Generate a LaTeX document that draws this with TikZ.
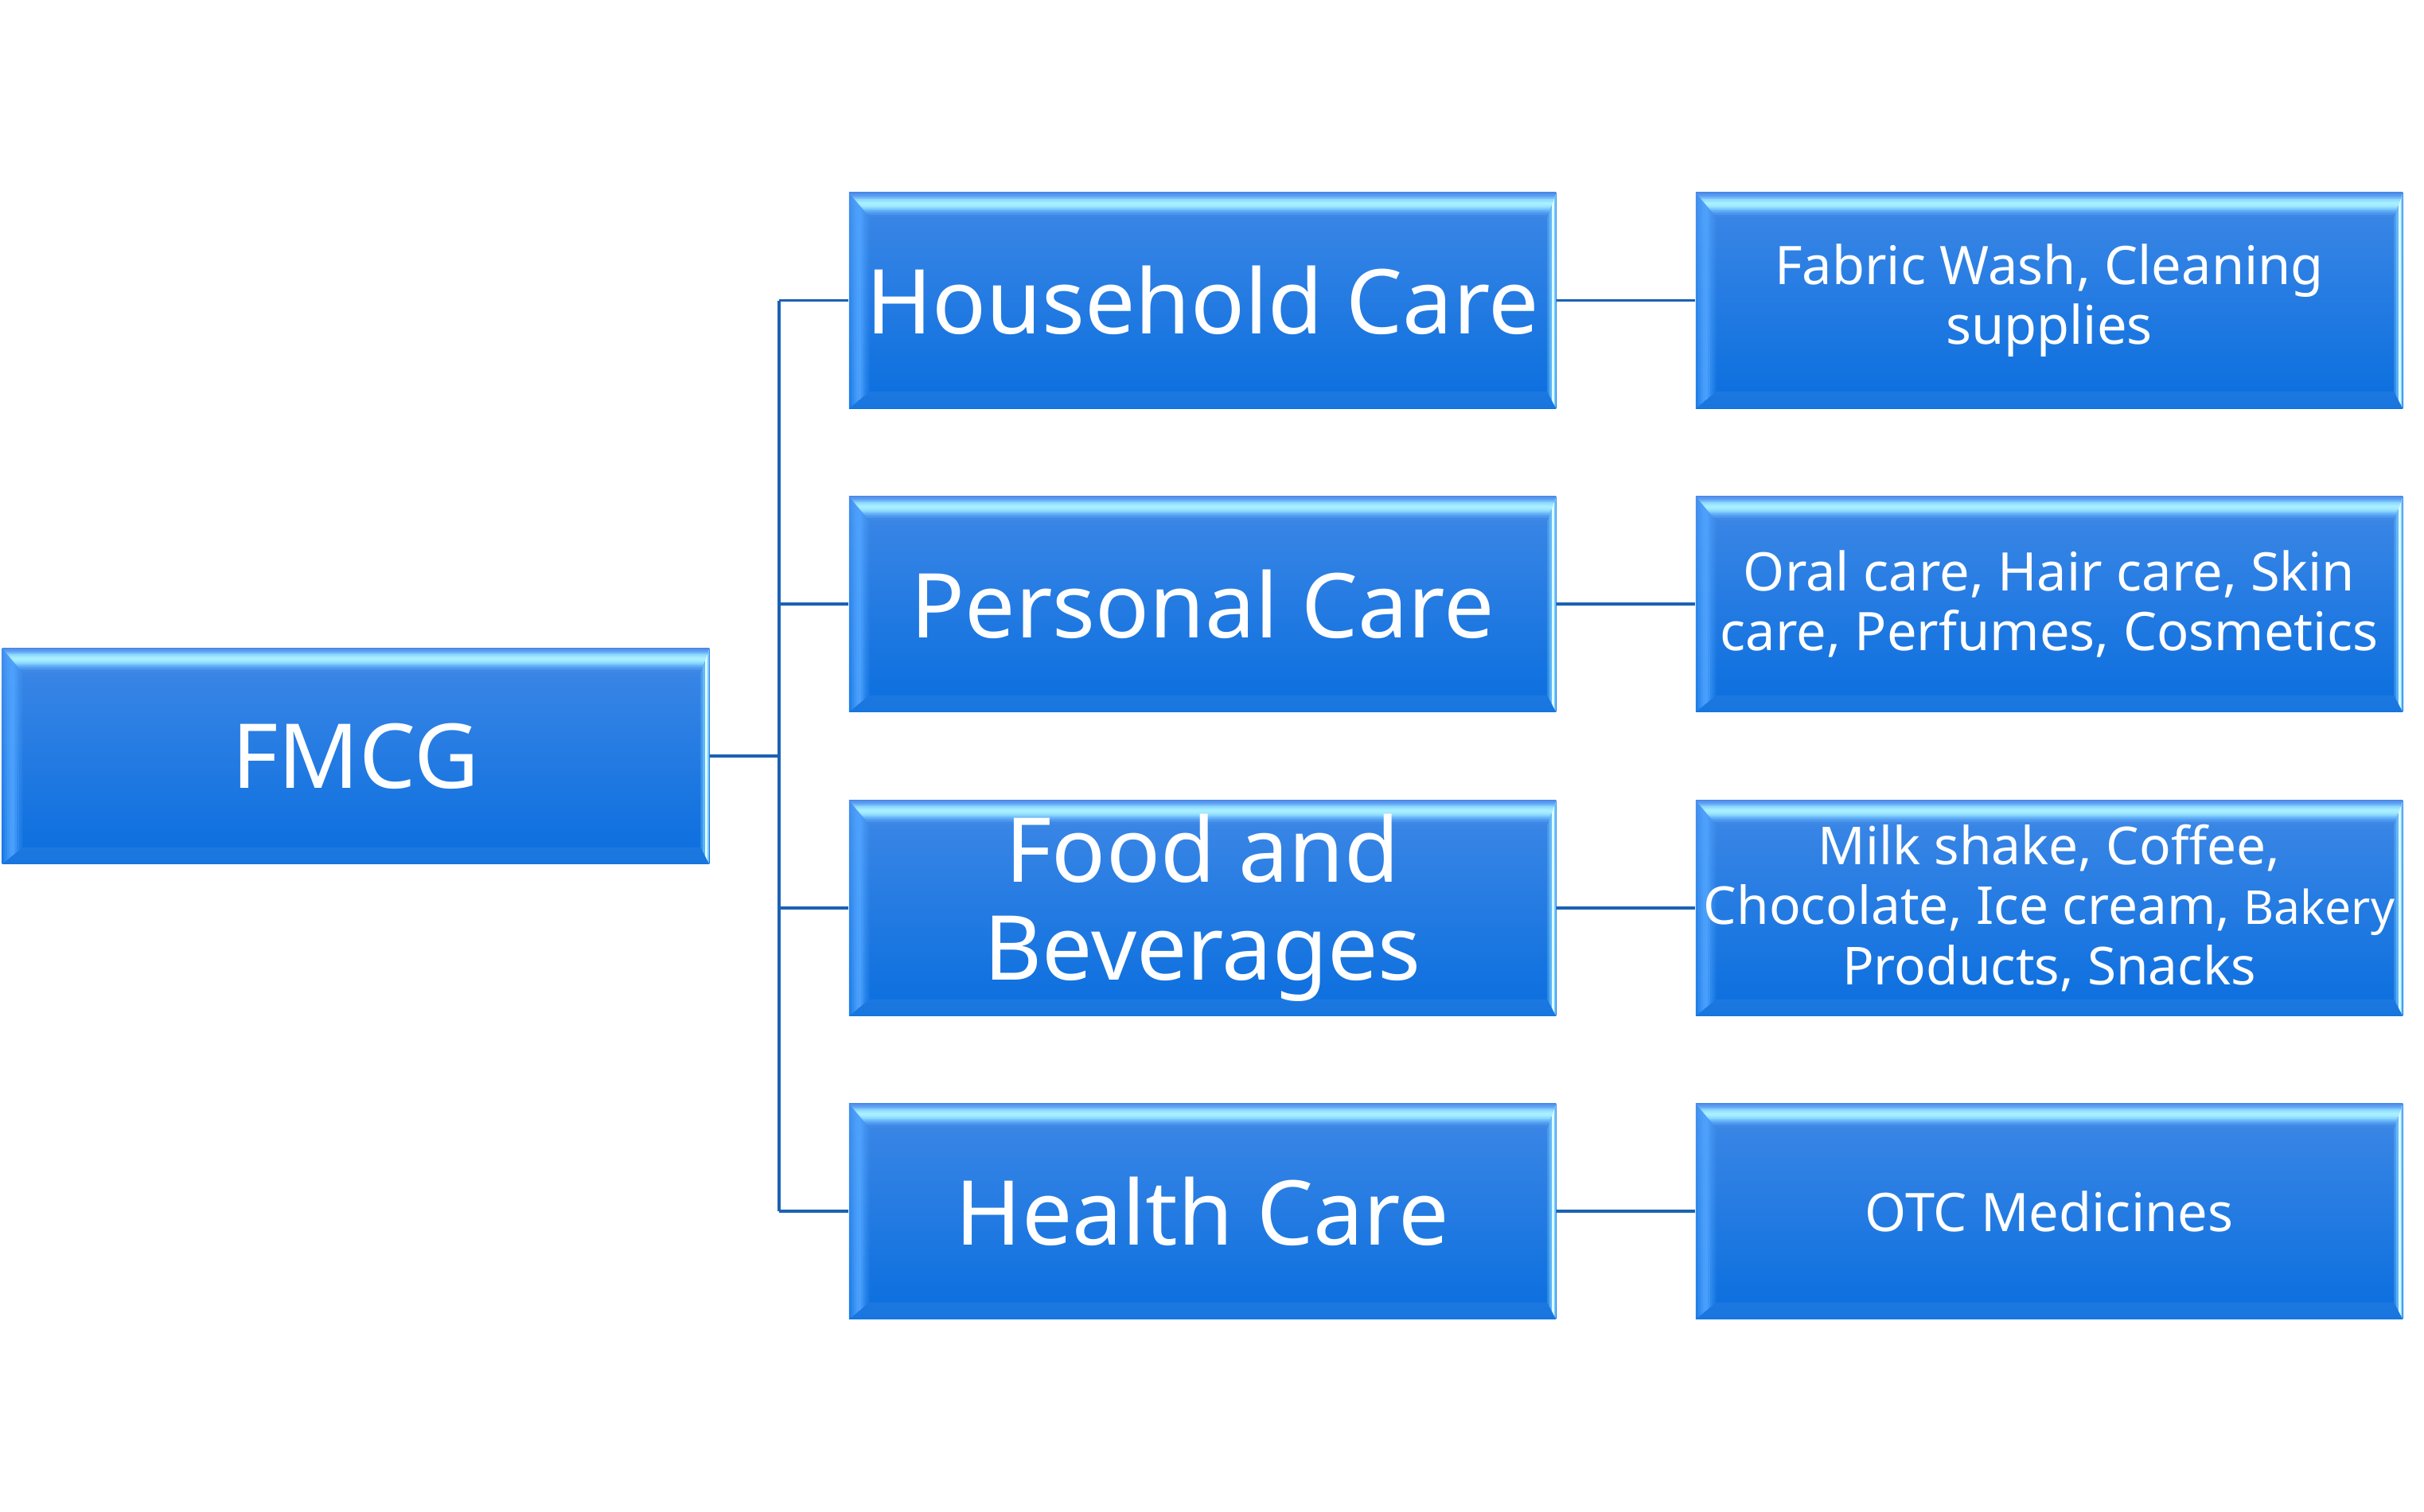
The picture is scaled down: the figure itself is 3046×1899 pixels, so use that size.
\documentclass[tikz,border=0pt]{standalone}
\usepackage{fontspec}
\setmainfont{Noto Sans}
\definecolor{boxtop}{RGB}{62,136,230}
\definecolor{boxmid}{RGB}{28,128,236}
\definecolor{boxbot}{RGB}{10,110,222}
\definecolor{sidecol}{RGB}{80,165,255}
\definecolor{edgecol}{RGB}{220,252,255}
\definecolor{edgecolB}{RGB}{120,205,255}
\definecolor{conncol}{RGB}{28,98,178}
\definecolor{tbA}{RGB}{100,175,248}
\definecolor{tbB}{RGB}{168,238,255}
\definecolor{tbC}{RGB}{140,218,255}
\definecolor{tbD}{RGB}{100,165,244}
\definecolor{tbE}{RGB}{78,140,232}
\tikzset{
  box/.style={rectangle, minimum width=8.88cm, minimum height=2.71cm, inner sep=0pt,
    text=white, align=center,
    top color=boxtop, middle color=boxmid, bottom color=boxbot,
    path picture={
      \coordinate (NW) at (path picture bounding box.north west);
      \coordinate (NE) at (path picture bounding box.north east);
      \coordinate (SW) at (path picture bounding box.south west);
      \coordinate (SE) at (path picture bounding box.south east);
      % left bevel
      \begin{scope}
        \clip (NW) -- ([xshift=0.26cm,yshift=-0.31cm]NW) -- ([xshift=0.26cm,yshift=0.21cm]SW) -- (SW) -- cycle;
        \foreach \d/\o in {0/0.3,3/0.5,6/0.7,9/0.85,12/0.9,15/0.7,18/0.45,21/0.25,24/0.1}
          \fill[sidecol, opacity=\o] ([xshift=\d*0.01cm]NW) rectangle ([xshift=\d*0.01cm+0.031cm]SW);
      \end{scope}
      % bottom bevel
      \fill[white, opacity=0.06]
        (SW) -- ([xshift=0.26cm,yshift=0.21cm]SW) -- ([xshift=-0.11cm,yshift=0.21cm]SE) -- (SE) -- cycle;
      % right bevel
      \begin{scope}
        \clip (NE) -- ([xshift=-0.11cm,yshift=-0.31cm]NE) -- ([xshift=-0.11cm,yshift=0.21cm]SE) -- (SE) -- cycle;
        \fill[edgecolB, opacity=0.35] ([xshift=-0.11cm]NE) rectangle ([xshift=-0.08cm]SE);
        \fill[edgecolB, opacity=0.7] ([xshift=-0.08cm]NE) rectangle ([xshift=-0.055cm]SE);
        \fill[edgecol] ([xshift=-0.055cm]NE) rectangle ([xshift=-0.025cm]SE);
        \fill[edgecolB] ([xshift=-0.025cm]NE) rectangle (SE);
      \end{scope}
      % top bevel
      \begin{scope}
        \clip (NW) -- (NE) -- ([xshift=-0.11cm,yshift=-0.31cm]NE) -- ([xshift=0.26cm,yshift=-0.31cm]NW) -- cycle;
        \foreach \d/\c in {0/tbE,2/tbE!50!tbD,4/tbD,6/tbD!50!tbC,8/tbC,10/tbC!50!tbB,12/tbB,14/tbB,
                           16/tbB!60!tbC,18/tbC,20/tbC!50!tbA,22/tbA,24/tbA!60!boxtop,26/tbA!30!boxtop,28/boxtop,30/boxtop}
          \fill[\c] ([yshift=-\d*0.01cm]NW) rectangle ([yshift=-\d*0.01cm-0.021cm]NE);
      \end{scope}
    }},
  bigtxt/.style={font=\fontsize{32}{35}\selectfont},
  smalltxt/.style={font=\fontsize{19}{21.5}\selectfont},
  conn/.style={draw=conncol, line width=1.1pt}
}
\begin{document}
\begin{tikzpicture}[x=0.01cm, y=-0.01cm]
\useasboundingbox (0,0) rectangle (3046,1899);
\node[box, bigtxt] (fmcg) at (447,950) {FMCG};
\node[box, bigtxt] (hh) at (1511,377.5) {Household Care};
\node[box, bigtxt] (pc) at (1511,759) {Personal Care};
\node[box, bigtxt] (fb) at (1511,1141) {Food and\\Beverages};
\node[box, bigtxt] (hc) at (1511,1522) {Health Care};
\node[box, smalltxt] (r1) at (2575,377.5) {Fabric Wash, Cleaning\\supplies};
\node[box, smalltxt] (r2) at (2575,759) {Oral care, Hair care, Skin\\care, Perfumes, Cosmetics};
\node[box, font=\fontsize{18.7}{21.5}\selectfont] (r3) at (2575,1141) {Milk shake, Coffee,\\Chocolate, Ice cream, {\fontsize{16.7}{21.5}\selectfont Bakery}\\Products, Snacks};
\node[box, smalltxt] (r4) at (2575,1522) {OTC Medicines};
\coordinate (bus) at (979,950);
\draw[conn] (fmcg.east) -- (bus);
\draw[conn] (bus |- hh.west) -- (bus |- hc.west);
\draw[conn] (bus |- hh.west) -- (hh.west);
\draw[conn] (bus |- pc.west) -- (pc.west);
\draw[conn] (bus |- fb.west) -- (fb.west);
\draw[conn] (bus |- hc.west) -- (hc.west);
\draw[conn] (hh.east) -- (r1.west);
\draw[conn] (pc.east) -- (r2.west);
\draw[conn] (fb.east) -- (r3.west);
\draw[conn] (hc.east) -- (r4.west);
\end{tikzpicture}
\end{document}
